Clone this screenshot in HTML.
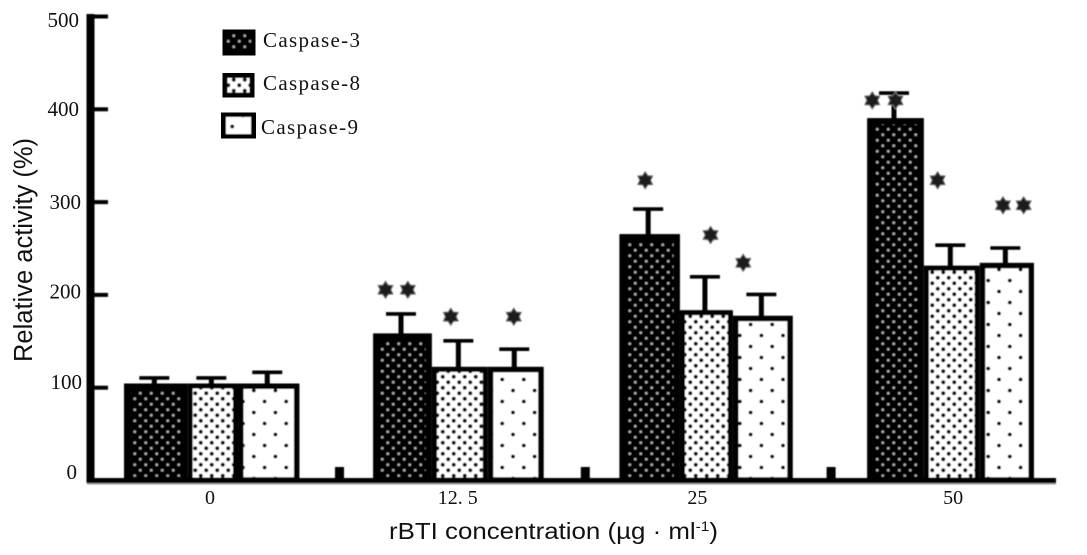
<!DOCTYPE html>
<html lang="en">
<head>
<meta charset="utf-8">
<title>Relative caspase activity</title>
<style>
html,body{margin:0;padding:0;background:#fff;}
svg{display:block;}
.num{font-family:"Liberation Serif",serif;fill:#111;}
.title{font-family:"Liberation Sans",sans-serif;fill:#111;}
</style>
</head>
<body>
<svg id="chart" xmlns="http://www.w3.org/2000/svg" width="1087" height="555" viewBox="0 0 1087 555">
  <defs>
    <pattern id="pat-c3" width="11" height="11" patternUnits="userSpaceOnUse">
      <rect width="11" height="11" fill="#050505"/>
      <circle cx="2.75" cy="2.75" r="1.4" fill="#a8a8a8"/>
      <circle cx="8.25" cy="8.25" r="1.4" fill="#a8a8a8"/>
    </pattern>
    <pattern id="pat-c8" width="11" height="11" patternUnits="userSpaceOnUse">
      <rect width="11" height="11" fill="#fff"/>
      <circle cx="2.75" cy="2.75" r="2" fill="#111"/>
      <circle cx="8.25" cy="8.25" r="2" fill="#111"/>
    </pattern>
    <pattern id="pat-c9" width="21.6" height="22" patternUnits="userSpaceOnUse">
      <rect width="21.6" height="22" fill="#fff"/>
      <circle cx="5.4" cy="5.5" r="1.9" fill="#000"/>
      <circle cx="16.2" cy="16.5" r="1.9" fill="#000"/>
    </pattern>
    <filter id="soft" x="-5%" y="-5%" width="110%" height="110%"><feGaussianBlur stdDeviation="0.45"/></filter>
  </defs>

  <g id="marks" filter="url(#soft)"></g>

  <g>
    <g>
      <rect x="224" y="31" width="30" height="23" fill="url(#pat-c3)" stroke="#000" stroke-width="6" filter="url(#soft)"/>
      <text class="num" x="263" y="47" font-size="21" textLength="97" lengthAdjust="spacing">Caspase-3</text>
    </g>
    <g>
      <rect x="224" y="74.500" width="29" height="21.500" fill="url(#pat-c8)" stroke="#000" stroke-width="7" filter="url(#soft)"/>
      <text class="num" x="263" y="90" font-size="21" textLength="97" lengthAdjust="spacing">Caspase-8</text>
    </g>
    <g>
      <rect x="223" y="114" width="31" height="23" fill="url(#pat-c9)" stroke="#000" stroke-width="6" filter="url(#soft)"/>
      <text class="num" x="261" y="134" font-size="21" textLength="97" lengthAdjust="spacing">Caspase-9</text>
    </g>
  </g>

  <text class="title" font-size="25.500" text-anchor="middle" textLength="224" lengthAdjust="spacingAndGlyphs" transform="translate(32,250) rotate(-90)">Relative activity (%)</text>
  <text class="title" x="389" y="539" font-size="23.500" textLength="329" lengthAdjust="spacingAndGlyphs">rBTI concentration (µg · ml<tspan font-size="14" dy="-8">-1</tspan><tspan dy="8">)</tspan></text>

  <g id="labels"></g>
</svg>

<script>
const categories = ['0', '12. 5', '25', '50'];
const seriesNames = ['caspase-3', 'caspase-8', 'caspase-9'];
const caspase3 = [104, 158, 265, 390];
const caspase8 = [104, 122, 183, 231];
const caspase9 = [104, 122, 177, 234];
const caspase3Err = [110, 179, 292, 417];
const caspase8Err = [110, 150, 219, 253];
const caspase9Err = [116, 141, 200, 250];
const yTicks = [0, 100, 200, 300, 400, 500];
const yTickLabels = ['0', '100', '200', '300', '400', '500'];
const starGroups = [1, 1, 1, 1, 2, 2, 2, 3, 3, 3, 3, 3];
const starOffsets = [0.08, 0.21, 0.46, 0.826, 0.15, 0.53, 0.72, 0.03, 0.165, 0.41, 0.79, 0.91];
const starLevels = [205, 205, 176, 176, 323, 264, 234, 409, 409, 323, 296, 296];

const NS = 'http://www.w3.org/2000/svg';
const marks = document.getElementById('marks');
const labels = document.getElementById('labels');
const patterns = ['url(#pat-c3)', 'url(#pat-c8)', 'url(#pat-c9)'];
const borderWidths = [6.5, 5, 5.5];
const groupSplits = [[0, .37, .663, 1.02], [.008, .35, .675, 1], [0, .352, .66, 1.008], [0, .33, .655, .97]];
const labelNudge = [-1, 2, 4, 7.5, 7, 11];
const labelRight = [77, 82, 81, 81, 79, 79];
const values = [caspase3, caspase8, caspase9];
const errors = [caspase3Err, caspase8Err, caspase9Err];

function yScale(v) { return 480 - v * 0.928; }
function groupX(g) { return 124 + g * 247.7; }
function bandX(g, f) { return groupX(g) + f * 172; }
function xTickX(g) { return 335 + g * 245.8; }
function make(tag, attrs, parent) {
  const el = document.createElementNS(NS, tag);
  for (const k in attrs) el.setAttribute(k, attrs[k]);
  parent.appendChild(el);
  return el;
}

categories.forEach(function (cat, g) {
  seriesNames.forEach(function (name, s) {
    const x0 = bandX(g, groupSplits[g][s]);
    const x1 = bandX(g, groupSplits[g][s + 1]);
    const cx = (x0 + x1) / 2 - 1.5;
    const stem = make('line', {x1: cx, x2: cx, y1: yScale(errors[s][g]), y2: yScale(values[s][g]) + 3, stroke: '#000', 'stroke-width': 5}, marks);
    
    
    const cap = make('line', {x1: cx - 15, x2: cx + 15, y1: yScale(errors[s][g]), y2: yScale(errors[s][g]), stroke: '#000', 'stroke-width': 3.6}, marks);
    
    
  });
});

categories.forEach(function (cat, g) {
  [1, 2, 0].forEach(function (s) {
    const x0 = bandX(g, groupSplits[g][s]);
    const x1 = bandX(g, groupSplits[g][s + 1]);
    const top = yScale(values[s][g]);
    const bw = borderWidths[s];
    const bar = make('rect', {x: x0 + bw / 2, y: top + bw / 2, width: x1 - x0 - bw, height: yScale(0) - top - bw / 2, fill: patterns[s], stroke: '#000', 'stroke-width': bw}, marks);
    
    
  });
});

starGroups.forEach(function (g, i) {
  const cx = bandX(g, starOffsets[i]);
  const cy = yScale(starLevels[i]);
  const pts = [];
  for (let k = 0; k < 12; k++) {
    const r = k % 2 ? 5.4 : 8.6;
    const a = Math.PI / 6 * k;
    pts.push((cx + r * Math.sin(a)).toFixed(1) + ',' + (cy - r * Math.cos(a)).toFixed(1));
  }
  const star = make('polygon', {points: pts.join(' '), fill: '#1a1a1a', stroke: '#777', 'stroke-width': 1}, marks);
  
  
});

const xShadow = make('rect', {x: 87, y: 483, width: 969, height: 1.5, fill: '#999'}, marks);


const yAxis = make('rect', {x: 86.5, y: 14, width: 8, height: 469, fill: '#000'}, marks);


const xAxis = make('rect', {x: 86.5, y: 478, width: 969.5, height: 5, fill: '#000'}, marks);



yTicks.forEach(function (t, i) {
  if (t > 0) {
    const tick = make('rect', {x: 94, y: yScale(t) - 1.5, width: 14, height: 4, fill: '#000'}, marks);
    
    
  }
  const lab = make('text', {x: labelRight[i], y: yScale(t) + labelNudge[i], 'text-anchor': 'end', 'font-size': 21, class: 'num'}, labels);
  lab.textContent = yTickLabels[i];
  
  
});

categories.forEach(function (cat, g) {
  if (g < categories.length - 1) {
    const tick = make('rect', {x: xTickX(g), y: 467, width: 9, height: 11, fill: '#000'}, marks);
    
    
  }
  const lab = make('text', {x: bandX(g, 0.5) + (g === 2 ? -8 : 0), y: 504, 'text-anchor': 'middle', 'font-size': 20, class: 'num'}, labels);
  lab.textContent = cat;
  
  
});
</script>
</body>
</html>
